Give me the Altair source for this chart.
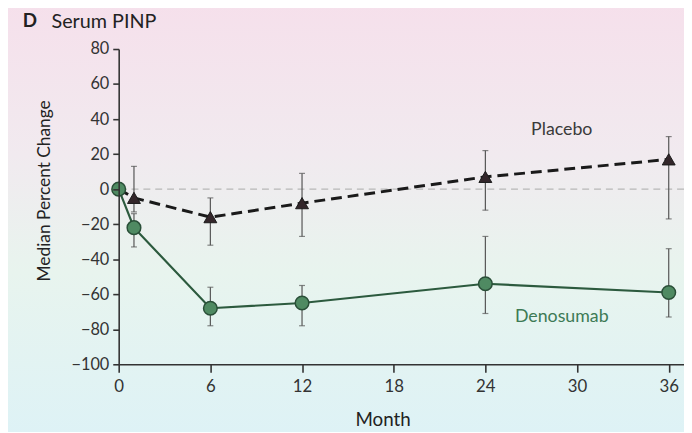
import altair as alt
import pandas as pd

# ---- data ----
months = [0, 1, 6, 12, 24, 36]
deno = [0, -22, -68, -65, -54, -59]
deno_lo = [None, -33, -78, -78, -71, -73]
deno_hi = [None, -14, -56, -55, -27, -34]
plac = [0, -5, -16, -8, 7, 17]
plac_lo = [None, -13, -32, -27, -12, -17]
plac_hi = [None, 13, -5, 9, 22, 30]

x_ticks = [0, 6, 12, 18, 24, 30, 36]
y_ticks = [-100, -80, -60, -40, -20, 0, 20, 40, 60, 80]

W, H = 572, 319
PL, PT, PR, PB = 112, 39, 0, 66

deno_df = pd.DataFrame({"month": months, "value": deno, "lo": deno_lo, "hi": deno_hi})
plac_df = pd.DataFrame({"month": months, "value": plac, "lo": plac_lo, "hi": plac_hi})
deno_err = deno_df.dropna()
plac_err = plac_df.dropna()

FONT = "Lato"
x_scale = alt.Scale(domain=[0, 37], nice=False, zero=False)
y_scale = alt.Scale(domain=[-100, 80], nice=False)

common = dict(grid=False, zindex=2, labelOverlap=False, labelFlush=False,
              domainColor="#333", tickColor="#333", domainWidth=1.6, tickWidth=1.6,
              labelFont=FONT, labelColor="#333", titleFont=FONT,
              titleFontWeight="normal", titleColor="#222")

x_axis = alt.Axis(values=x_ticks, tickSize=8, labelPadding=7,
                  titleX=267, titleY=47, titleBaseline="top",
                  labelFontSize=17, titleFontSize=19, **common)
y_axis = alt.Axis(values=y_ticks, tickSize=6, labelPadding=4,
                  titleX=-75, titleY=143, titleAngle=-90,
                  titleAlign="center", titleBaseline="middle",
                  labelFontSize=16.5, titleFontSize=17.5, **common)


def XE(field="month:Q"):
    return alt.X(field, scale=x_scale, axis=x_axis, title="Month")


def YE(field):
    return alt.Y(field, scale=y_scale, axis=y_axis, title="Median Percent Change")


bg = alt.Chart(pd.DataFrame({"a": [1]})).mark_rect(
    color=alt.Gradient(gradient="linear", x1=0, x2=0, y1=0, y2=1,
                       stops=[alt.GradientStop(color="#f6dfeb", offset=0),
                              alt.GradientStop(color="#f1eaef", offset=0.35),
                              alt.GradientStop(color="#e8f4ee", offset=0.6),
                              alt.GradientStop(color="#dcf2f7", offset=1)])
).encode(x=alt.value(-PL - 20), x2=alt.value(W + 30), y=alt.value(-PT - 20), y2=alt.value(H + PB + 30))

zero_line = alt.Chart(pd.DataFrame({"y": [0]})).mark_rule(
    color="#b8b8b8", strokeDash=[7, 5], strokeWidth=1.4
).encode(y=YE("y:Q"))

p_line = alt.Chart(plac_df).mark_line(color="#1a1a1a", strokeWidth=3, strokeDash=[11, 6]).encode(
    x=XE(), y=YE("value:Q"))
p_err = alt.Chart(plac_err).mark_rule(color="#555", strokeWidth=1.2).encode(
    x=XE(), y=YE("lo:Q"), y2="hi:Q")
p_cap_lo = alt.Chart(plac_err).mark_tick(color="#555", thickness=1.2, size=6, orient="horizontal").encode(
    x=XE(), y=YE("lo:Q"))
p_cap_hi = alt.Chart(plac_err).mark_tick(color="#555", thickness=1.2, size=6, orient="horizontal").encode(
    x=XE(), y=YE("hi:Q"))
p_pts = alt.Chart(plac_err).mark_point(shape="triangle-up", filled=True, size=170,
                                       color="#33262a", stroke="#1a1a1a", strokeWidth=1, opacity=1).encode(
    x=XE(), y=YE("value:Q"))

d_line = alt.Chart(deno_df).mark_line(color="#2c5a3e", strokeWidth=2.2).encode(
    x=XE(), y=YE("value:Q"))
d_err = alt.Chart(deno_err).mark_rule(color="#555", strokeWidth=1.2).encode(
    x=XE(), y=YE("lo:Q"), y2="hi:Q")
d_cap_lo = alt.Chart(deno_err).mark_tick(color="#555", thickness=1.2, size=6, orient="horizontal").encode(
    x=XE(), y=YE("lo:Q"))
d_cap_hi = alt.Chart(deno_err).mark_tick(color="#555", thickness=1.2, size=6, orient="horizontal").encode(
    x=XE(), y=YE("hi:Q"))
d_pts = alt.Chart(deno_df).mark_point(shape="circle", filled=True, size=190,
                                      color="#4f8a62", stroke="#2a4f38", strokeWidth=1.5, opacity=1).encode(
    x=XE(), y=YE("value:Q"))

lab_df = pd.DataFrame({"month": [29.0, 29.0], "value": [34, -73],
                       "label": ["Placebo", "Denosumab"], "c": ["#3a3a3a", "#3d7a55"]})
labels = alt.Chart(lab_df).mark_text(font=FONT, fontSize=18, align="center", baseline="middle").encode(
    x=XE(), y=YE("value:Q"),
    text="label:N", color=alt.Color("c:N", scale=None))

title_d = alt.Chart(pd.DataFrame({"t": ["D"]})).mark_text(
    font=FONT, fontSize=19, fontWeight="bold", color="#222", align="left", baseline="middle"
).encode(x=alt.value(-97), y=alt.value(-28), text="t:N")
title_s = alt.Chart(pd.DataFrame({"t": ["Serum PINP"]})).mark_text(
    font=FONT, fontSize=20, color="#222", align="left", baseline="middle"
).encode(x=alt.value(-68), y=alt.value(-27), text="t:N")

chart = alt.layer(
    bg, zero_line, p_line, p_err, p_cap_lo, p_cap_hi, p_pts,
    d_line, d_err, d_cap_lo, d_cap_hi, d_pts, labels, title_d, title_s
).properties(
    width=W, height=H,
    autosize=alt.AutoSizeParams(type="none"),
    padding={"left": PL, "top": PT, "right": PR, "bottom": PB},
    background="#eaf1f0"
).configure_view(stroke=None)

chart.save("out.html", embed_options={"renderer": "svg", "actions": False})
